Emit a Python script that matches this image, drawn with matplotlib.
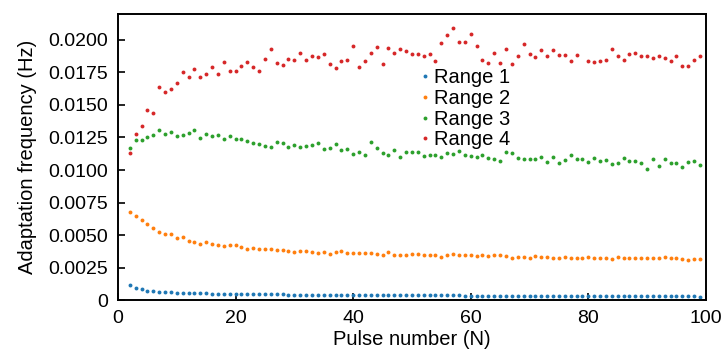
import numpy as np
import matplotlib
matplotlib.use("Agg")
import matplotlib.pyplot as plt
from matplotlib.ticker import FuncFormatter

#%% data (pulse numbers 2..99)

pulse = list(range(2, 100))

range1 = [0.00118, 0.00095, 0.00082, 0.00073, 0.00067, 0.00063, 0.00060, 0.00058, 0.00056, 0.00055,
          0.00054, 0.00053, 0.00052, 0.00051, 0.00050, 0.00049, 0.00048, 0.00047, 0.00047, 0.00046,
          0.00045, 0.00045, 0.00044, 0.00044, 0.00043, 0.00043, 0.00043, 0.00042, 0.00042, 0.00042,
          0.00041, 0.00041, 0.00041, 0.00040, 0.00040, 0.00040, 0.00040, 0.00039, 0.00039, 0.00039,
          0.00039, 0.00038, 0.00038, 0.00038, 0.00038, 0.00037, 0.00037, 0.00037, 0.00037, 0.00036,
          0.00036, 0.00036, 0.00036, 0.00035, 0.00035, 0.00035, 0.00035, 0.00034, 0.00034, 0.00034,
          0.00034, 0.00034, 0.00033, 0.00033, 0.00033, 0.00033, 0.00033, 0.00032, 0.00032, 0.00032,
          0.00032, 0.00032, 0.00031, 0.00031, 0.00031, 0.00031, 0.00031, 0.00031, 0.00030, 0.00030,
          0.00030, 0.00030, 0.00030, 0.00030, 0.00029, 0.00029, 0.00029, 0.00029, 0.00029, 0.00029,
          0.00028, 0.00028, 0.00028, 0.00028, 0.00028, 0.00028, 0.00028, 0.00027]

range2 = [0.00680, 0.00644, 0.00616, 0.00585, 0.00554, 0.00526, 0.00505, 0.00505, 0.00479, 0.00482,
          0.00456, 0.00448, 0.00433, 0.00446, 0.00428, 0.00425, 0.00412, 0.00422, 0.00422, 0.00410,
          0.00389, 0.00402, 0.00392, 0.00389, 0.00394, 0.00384, 0.00381, 0.00379, 0.00371, 0.00379,
          0.00379, 0.00368, 0.00360, 0.00371, 0.00356, 0.00369, 0.00379, 0.00358, 0.00361, 0.00358,
          0.00358, 0.00363, 0.00356, 0.00350, 0.00369, 0.00350, 0.00350, 0.00350, 0.00353, 0.00353,
          0.00345, 0.00343, 0.00350, 0.00333, 0.00345, 0.00356, 0.00348, 0.00343, 0.00345, 0.00338,
          0.00345, 0.00338, 0.00343, 0.00345, 0.00338, 0.00327, 0.00333, 0.00333, 0.00327, 0.00340,
          0.00333, 0.00333, 0.00322, 0.00327, 0.00333, 0.00327, 0.00322, 0.00322, 0.00333, 0.00325,
          0.00325, 0.00325, 0.00314, 0.00330, 0.00325, 0.00322, 0.00322, 0.00320, 0.00320, 0.00320,
          0.00320, 0.00330, 0.00320, 0.00320, 0.00314, 0.00309, 0.00317, 0.00317]

range3 = [0.01168, 0.01227, 0.01232, 0.01250, 0.01273, 0.01304, 0.01276, 0.01296, 0.01258, 0.01268,
          0.01284, 0.01307, 0.01245, 0.01278, 0.01260, 0.01273, 0.01242, 0.01260, 0.01235, 0.01237,
          0.01224, 0.01206, 0.01199, 0.01188, 0.01175, 0.01217, 0.01209, 0.01178, 0.01196, 0.01178,
          0.01186, 0.01191, 0.01210, 0.01165, 0.01170, 0.01199, 0.01155, 0.01162, 0.01124, 0.01137,
          0.01119, 0.01217, 0.01168, 0.01134, 0.01116, 0.01152, 0.01103, 0.01139, 0.01142, 0.01139,
          0.01108, 0.01113, 0.01116, 0.01103, 0.01132, 0.01124, 0.01144, 0.01113, 0.01106, 0.01101,
          0.01119, 0.01090, 0.01085, 0.01067, 0.01137, 0.01129, 0.01095, 0.01088, 0.01083, 0.01083,
          0.01101, 0.01059, 0.01103, 0.01057, 0.01080, 0.01113, 0.01083, 0.01085, 0.01059, 0.01093,
          0.01067, 0.01077, 0.01044, 0.01051, 0.01093, 0.01067, 0.01070, 0.01054, 0.01010, 0.01085,
          0.01031, 0.01083, 0.01051, 0.01051, 0.01021, 0.01062, 0.01072, 0.01036]

range4 = [0.01134, 0.01276, 0.01340, 0.01459, 0.01436, 0.01639, 0.01598, 0.01624, 0.01673, 0.01750,
          0.01719, 0.01778, 0.01717, 0.01740, 0.01791, 0.01735, 0.01830, 0.01765, 0.01760, 0.01799,
          0.01830, 0.01789, 0.01758, 0.01851, 0.01933, 0.01820, 0.01809, 0.01853, 0.01843, 0.01897,
          0.01843, 0.01879, 0.01869, 0.01889, 0.01812, 0.01786, 0.01835, 0.01845, 0.01954, 0.01796,
          0.01838, 0.01900, 0.01946, 0.01812, 0.01941, 0.01897, 0.01930, 0.01918, 0.01889, 0.01889,
          0.01874, 0.01894, 0.01835, 0.01977, 0.02036, 0.02093, 0.01985, 0.01985, 0.02044, 0.01956,
          0.01848, 0.01825, 0.01900, 0.01825, 0.01933, 0.01812, 0.01879, 0.01966, 0.01889, 0.01866,
          0.01925, 0.01874, 0.01920, 0.01884, 0.01884, 0.01835, 0.01884, np.nan, 0.01840, 0.01832,
          0.01835, 0.01845, 0.01933, 0.01876, 0.01843, 0.01892, 0.01902, 0.01874, 0.01877, 0.01863,
          0.01874, 0.01863, 0.01840, 0.01874, 0.01799, 0.01799, 0.01848, 0.01874]

series = [range1, range2, range3, range4]
labels = ['Range 1', 'Range 2', 'Range 3', 'Range 4']
colors = ['#1f77b4', '#ff7f0e', '#2ca02c', '#d62728']

x_ticks = [0, 20, 40, 60, 80, 100]
y_ticks = [0, 0.0025, 0.005, 0.0075, 0.01, 0.0125, 0.015, 0.0175, 0.02]

#%% plot

plt.rcParams['font.family'] = ['Liberation Sans', 'DejaVu Sans']

fig = plt.figure(figsize=(7.21, 3.54), dpi=100)
ax = fig.add_axes([0.1637, 0.1525, 0.8153, 0.808])

for vals, lab, col in zip(series, labels, colors):
    ax.plot(pulse, vals, linestyle='none', marker='o', markersize=2.8,
            markeredgewidth=0, color=col, label=lab)

ax.set_xlim(0, 100)
ax.set_ylim(0, 0.022)
ax.set_xticks(x_ticks)
ax.set_yticks(y_ticks)
ax.yaxis.set_major_formatter(FuncFormatter(lambda v, p: '0' if v == 0 else '%.4f' % v))
ax.tick_params(direction='in', length=5, width=1.2, labelsize=14)
ax.tick_params(axis='y', pad=7)
ax.tick_params(axis='x', pad=7)

for sp in ax.spines.values():
    sp.set_linewidth(1.4)

ax.set_xlabel('Pulse number (N)', fontsize=14.5, labelpad=2)
ax.set_ylabel('Adaptation frequency (Hz)', fontsize=14.5, labelpad=8)

ax.legend(loc='upper left', bbox_to_anchor=(0.515, 0.81), frameon=False,
          fontsize=14.5, handlelength=0.4, handletextpad=0.25, borderpad=0,
          labelspacing=0.08, borderaxespad=0)

fig.savefig('out.png', dpi=100)
